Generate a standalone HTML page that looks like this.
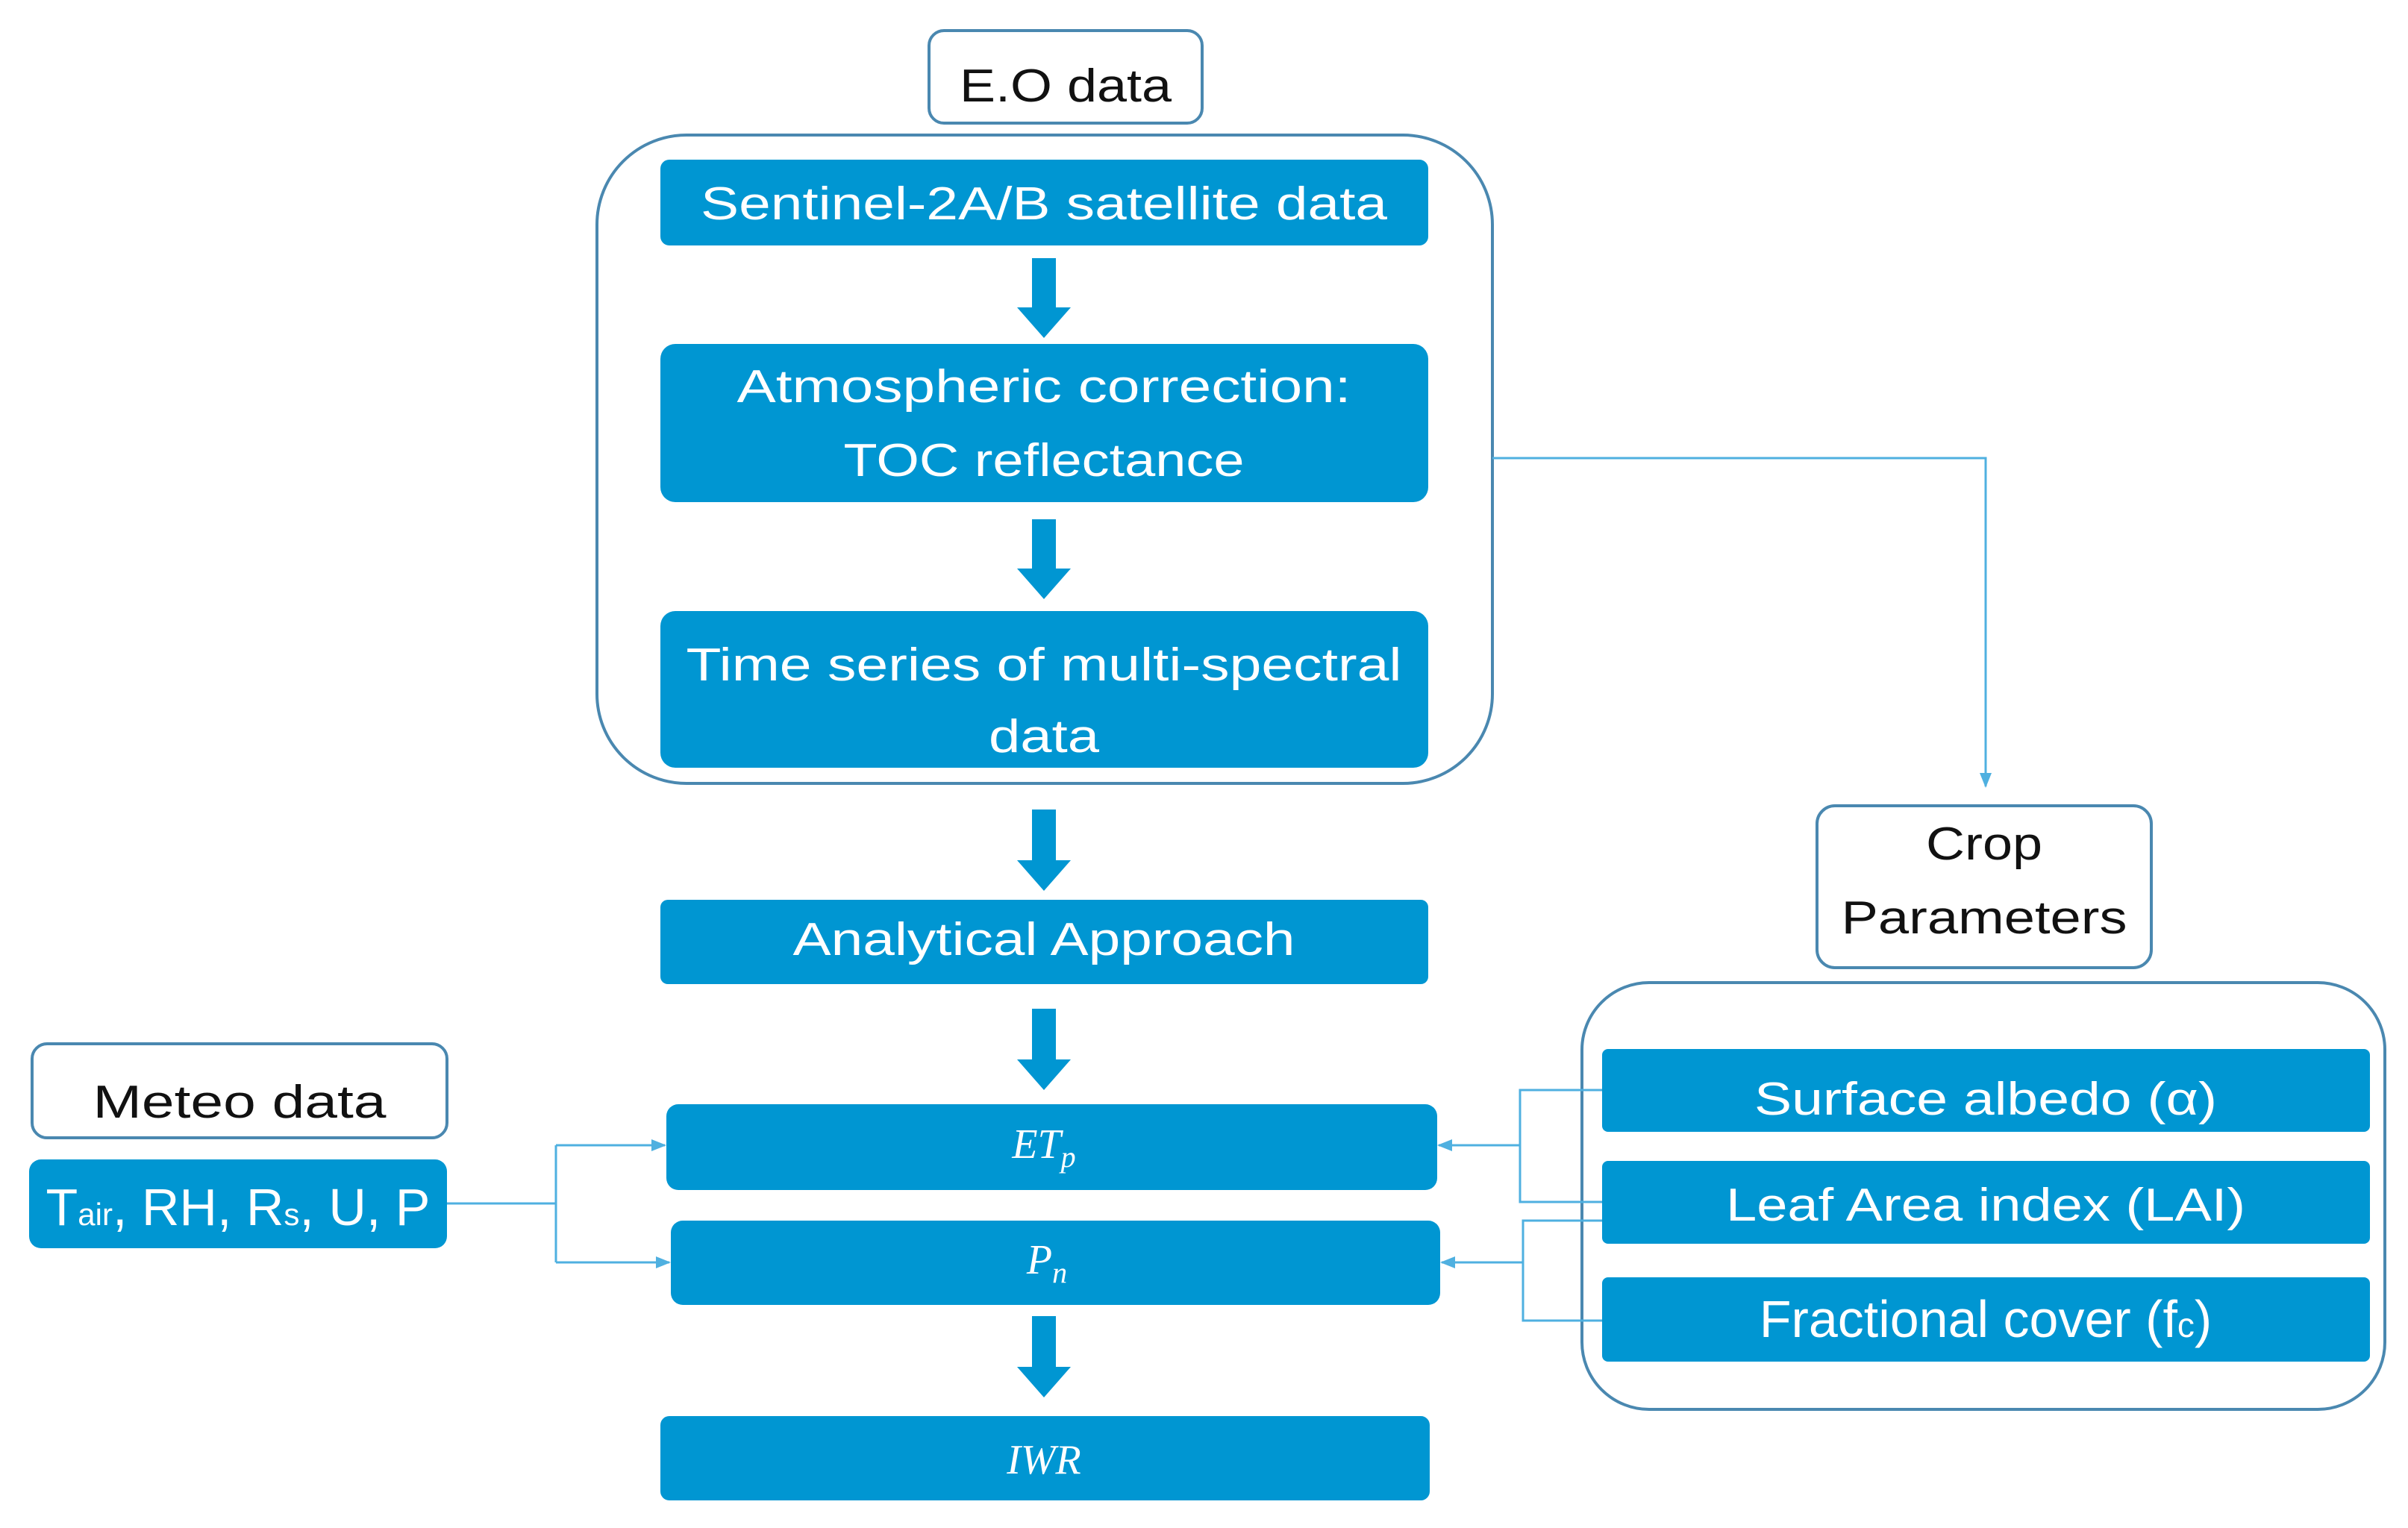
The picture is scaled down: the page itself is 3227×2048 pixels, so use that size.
<!DOCTYPE html>
<html><head><meta charset="utf-8"><style>
html,body{margin:0;padding:0;background:#fff;}
svg{display:block;}
.w{font-family:"Liberation Sans",sans-serif;fill:#fff;font-size:62px;}
.k{font-family:"Liberation Sans",sans-serif;fill:#111;font-size:62px;}
.m{font-family:"Liberation Serif",serif;font-style:italic;fill:#fff;font-size:56px;}
</style></head><body>
<svg width="3227" height="2048" viewBox="0 0 3227 2048" xmlns="http://www.w3.org/2000/svg">
<defs>
<marker id="ah" markerWidth="20" markerHeight="20" refX="18" refY="10" orient="auto" markerUnits="userSpaceOnUse" viewBox="0 0 20 20">
<path d="M0,2 L20,10 L0,18 z" fill="#4fb0e0"/></marker>
</defs>
<g fill="none" stroke="#4a88b0" stroke-width="4">
<rect x="1245" y="41" width="366" height="124" rx="20"/>
<rect x="800" y="181" width="1200" height="869" rx="120"/>
<rect x="43" y="1399" width="556" height="126" rx="20"/>
<rect x="2435" y="1080" width="448" height="217" rx="24"/>
<rect x="2120" y="1317" width="1076" height="572" rx="90"/>
</g>
<g fill="#0096d2">
<rect x="885" y="214" width="1029" height="115" rx="12"/>
<rect x="885" y="461" width="1029" height="212" rx="20"/>
<rect x="885" y="819" width="1029" height="210" rx="20"/>
<rect x="885" y="1206" width="1029" height="113" rx="10"/>
<rect x="893" y="1480" width="1033" height="115" rx="16"/>
<rect x="899" y="1636" width="1031" height="113" rx="16"/>
<rect x="885" y="1898" width="1031" height="113" rx="12"/>
<rect x="39" y="1554" width="560" height="119" rx="16"/>
<rect x="2147" y="1406" width="1029" height="111" rx="8"/>
<rect x="2147" y="1556" width="1029" height="111" rx="8"/>
<rect x="2147" y="1712" width="1029" height="113" rx="8"/>
</g>
<g fill="#0096d2">
<path d="M1383,346 h32 v66 h20 l-36,41 l-36,-41 h20z"/>
<path d="M1383,696 h32 v66 h20 l-36,41 l-36,-41 h20z"/>
<path d="M1383,1085 h32 v68 h20 l-36,41 l-36,-41 h20z"/>
<path d="M1383,1352 h32 v68 h20 l-36,41 l-36,-41 h20z"/>
<path d="M1383,1764 h32 v68 h20 l-36,41 l-36,-41 h20z"/>
</g>
<g fill="none" stroke="#4fb0e0" stroke-width="3">
<path d="M2000,614 H2661 V1054" marker-end="url(#ah)"/>
<path d="M599,1613 H745"/>
<path d="M745,1535 V1692"/>
<path d="M745,1535 H891" marker-end="url(#ah)"/>
<path d="M745,1692 H897" marker-end="url(#ah)"/>
<path d="M2147,1461 H2037 V1611 H2147"/>
<path d="M2037,1535 H1928" marker-end="url(#ah)"/>
<path d="M2147,1636 H2041 V1770 H2147"/>
<path d="M2041,1692 H1932" marker-end="url(#ah)"/>
</g>
<g text-anchor="middle">
<text class="k" x="1428" y="136" textLength="284" lengthAdjust="spacingAndGlyphs">E.O data</text>
<text class="w" x="1399" y="294" textLength="920" lengthAdjust="spacingAndGlyphs">Sentinel-2A/B satellite data</text>
<text class="w" x="1399" y="539" textLength="823" lengthAdjust="spacingAndGlyphs">Atmospheric correction:</text>
<text class="w" x="1399" y="638" textLength="537" lengthAdjust="spacingAndGlyphs">TOC reflectance</text>
<text class="w" x="1399" y="912" textLength="959" lengthAdjust="spacingAndGlyphs">Time series of multi-spectral</text>
<text class="w" x="1399" y="1008" textLength="148" lengthAdjust="spacingAndGlyphs">data</text>
<text class="w" x="1399" y="1280" textLength="673" lengthAdjust="spacingAndGlyphs">Analytical Approach</text>
<text class="m" x="1399" y="1552">ET<tspan style="font-size:40px" dy="12">p</tspan></text>
<text class="m" x="1403" y="1707">P<tspan style="font-size:40px" dy="12">n</tspan></text>
<text class="m" x="1399" y="1975">IWR</text>
<text class="k" x="321" y="1498" textLength="393" lengthAdjust="spacingAndGlyphs">Meteo data</text>
<text class="w" x="319" y="1642" style="font-size:70px">T<tspan style="font-size:42px">air</tspan>, RH, R<tspan style="font-size:42px">s</tspan>, U, P</text>
<text class="k" x="2659" y="1152" textLength="156" lengthAdjust="spacingAndGlyphs">Crop</text>
<text class="k" x="2659" y="1251" textLength="383" lengthAdjust="spacingAndGlyphs">Parameters</text>
<text class="w" x="2661" y="1494" textLength="620" lengthAdjust="spacingAndGlyphs">Surface albedo (α)</text>
<text class="w" x="2661" y="1636" textLength="696" lengthAdjust="spacingAndGlyphs">Leaf Area index (LAI)</text>
<text class="w" x="2661" y="1792" style="font-size:70px">Fractional cover (f<tspan style="font-size:46px">c</tspan>)</text>
</g>
</svg>
</body></html>
